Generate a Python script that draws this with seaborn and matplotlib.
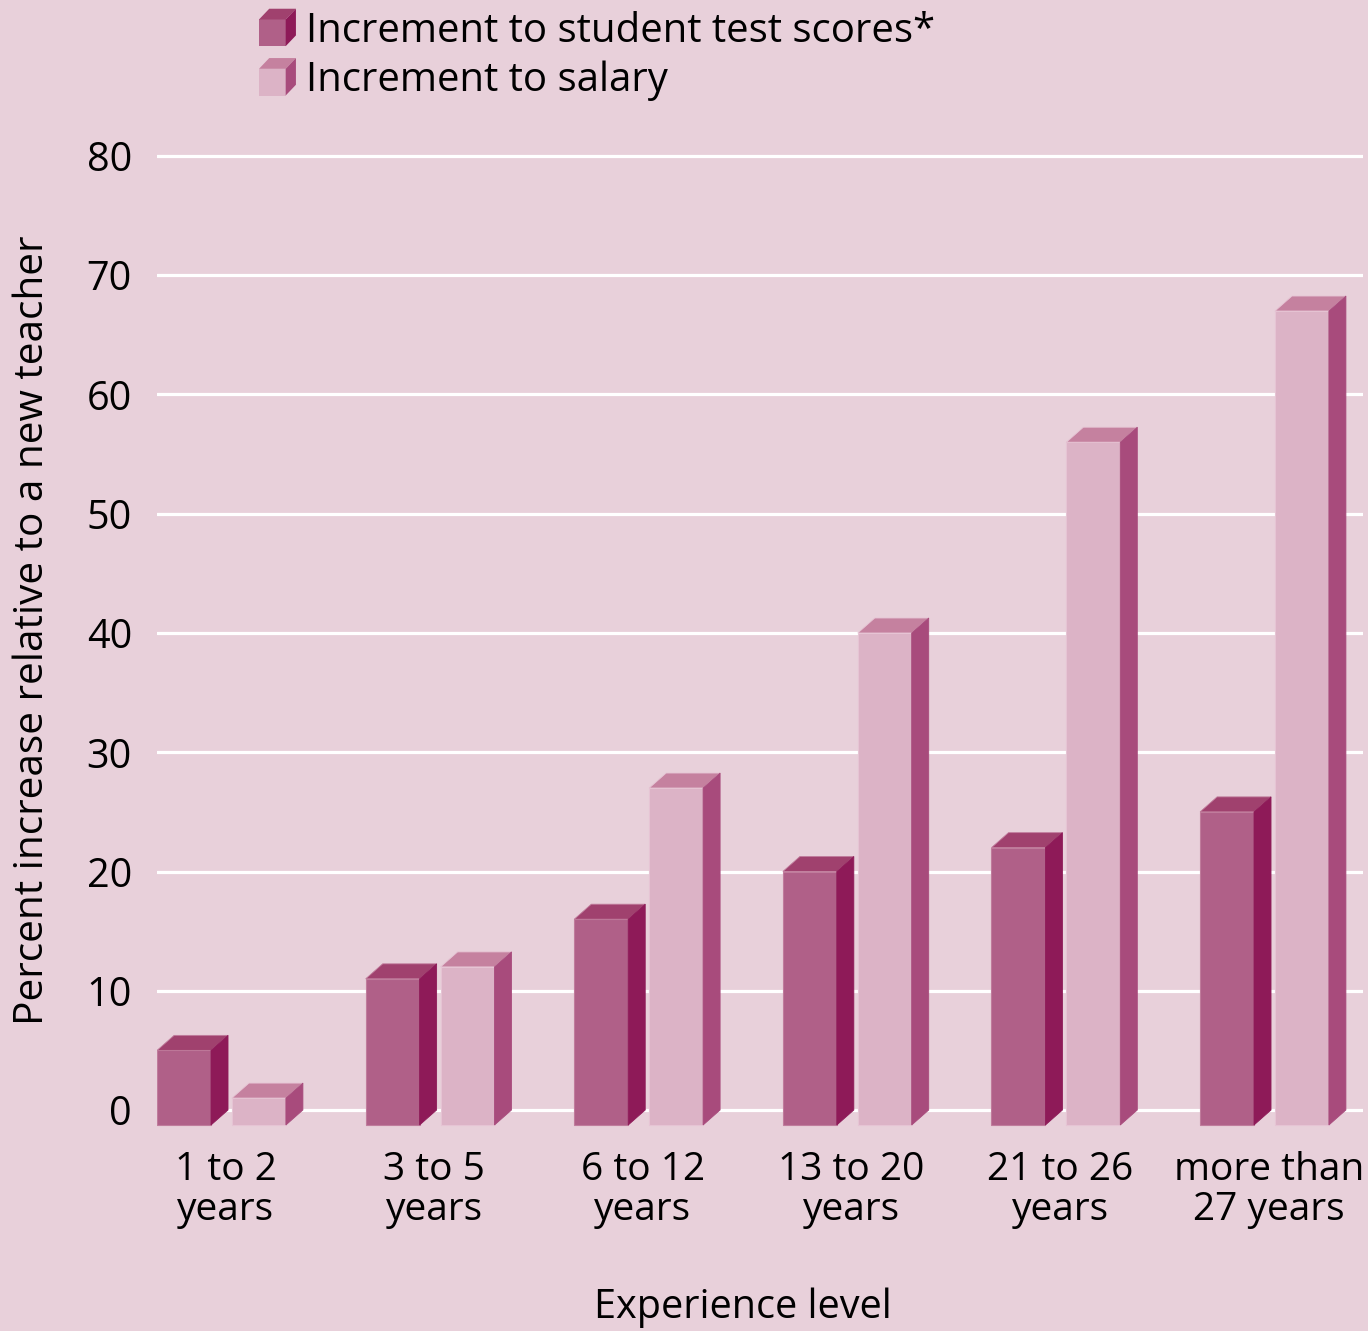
import numpy as np
import pandas as pd
import matplotlib
matplotlib.use("Agg")
import matplotlib.pyplot as plt
import seaborn as sns
from matplotlib.patches import Polygon, Patch
from matplotlib.legend_handler import HandlerBase

# ---------------- data ----------------
categories = ["1 to 2\nyears", "3 to 5\nyears", "6 to 12\nyears",
              "13 to 20\nyears", "21 to 26\nyears", "more than\n27 years"]
test_scores = [5, 11, 16, 20, 22, 25]
salary = [1, 12, 27, 40, 56, 67]
series = ["Increment to student test scores*", "Increment to salary"]
yticks = [0, 10, 20, 30, 40, 50, 60, 70, 80]
xlabel = "Experience level"
ylabel = "Percent increase relative to a new teacher"

df = pd.DataFrame({
    "Experience": categories * 2,
    "Value": test_scores + salary,
    "Series": [series[0]] * len(categories) + [series[1]] * len(categories),
})

# ---------------- style ----------------
BG = "#E8D0DA"
FACES = {
    series[0]: dict(front="#B06088", top="#A0416E", side="#8E1A58", edge="#C07C9C"),
    series[1]: dict(front="#DCB3C6", top="#C5819F", side="#A84B7C", edge="#E6C4D4"),
}
FS = 28

sns.set_theme(style="white")
plt.rcParams["font.family"] = ["Open Sans", "DejaVu Sans"]
plt.rcParams["font.weight"] = "medium"
plt.rcParams["text.color"] = "black"
plt.rcParams["xtick.color"] = "black"
plt.rcParams["ytick.color"] = "black"

W, H = 1368, 1331
fig = plt.figure(figsize=(W / 100, H / 100), dpi=100, facecolor=BG)
ax_left, ax_right, ax_top, ax_bot = 157, 1363, 140, 1140
ax = fig.add_axes([ax_left / W, 1 - ax_bot / H, (ax_right - ax_left) / W, (ax_bot - ax_top) / H])
ax.set_facecolor(BG)

sns.barplot(data=df, x="Experience", y="Value", hue="Series",
            palette=[FACES[s]["front"] for s in series],
            width=0.718, gap=0.28, ax=ax, legend=False,
            linewidth=0, saturation=1, zorder=3, errorbar=None)

# axis scales (pixel -> data)
px_per_x = 208.6
px_per_y = (1110 - 156) / 80.0
x0_px = 221.5
ax.set_xlim((ax_left - x0_px) / px_per_x, (ax_right - x0_px) / px_per_x)
ax.set_ylim(-(ax_bot - 1110) / px_per_y, 80 + (156 - ax_top) / px_per_y)

DX = 17 / px_per_x
DY = 15 / px_per_y
BASE = -DY

front_by_series = {s: matplotlib.colors.to_rgba(FACES[s]["front"]) for s in series}
for p in list(ax.patches):
    fc = p.get_facecolor()
    s = min(series, key=lambda k: sum((a - b) ** 2 for a, b in zip(fc, front_by_series[k])))
    c = FACES[s]
    x = p.get_x()
    w = p.get_width()
    v = p.get_y() + p.get_height()
    p.set_y(BASE)
    p.set_height(v - BASE)
    p.set_edgecolor(c["edge"])
    p.set_linewidth(0.8)
    top = Polygon([(x, v), (x + DX, v + DY), (x + w + DX, v + DY), (x + w, v)],
                  closed=True, facecolor=c["top"], edgecolor=c["edge"], linewidth=0.6, zorder=3)
    side = Polygon([(x + w, BASE), (x + w + DX, BASE + DY), (x + w + DX, v + DY), (x + w, v)],
                   closed=True, facecolor=c["side"], edgecolor=c["side"], linewidth=0.6, zorder=3)
    ax.add_patch(top)
    ax.add_patch(side)

# gridlines
for yv in yticks:
    ax.axhline(yv, color="white", lw=2.3, zorder=1)
ax.grid(False)
for sp in ax.spines.values():
    sp.set_visible(False)

ax.set_yticks(yticks)
ax.set_yticklabels([str(t) for t in yticks], fontsize=FS + 0.5)
ax.set_xticks([i + 0.02 for i in range(len(categories))])
ax.set_xticklabels(categories, fontsize=FS, linespacing=1.05)
ax.tick_params(axis="y", length=0, pad=18)
ax.tick_params(axis="x", length=0, pad=8)
ax.set_xlabel("")
ax.set_ylabel("")

fig.text(743 / W, 1 - 1308 / H, xlabel, fontsize=FS + 0.5, ha="center", va="center")
fig.text(33 / W, 1 - 630 / H, ylabel, fontsize=FS + 1.2, ha="center", va="center", rotation=90)


# legend with cube handles
class CubeHandler(HandlerBase):
    def __init__(self, faces):
        super().__init__()
        self.faces = faces

    def create_artists(self, legend, orig_handle, xdescent, ydescent, width, height, fontsize, trans):
        s = height * 0.95
        d = width - s
        dy = d * 1.05
        x0, y0 = -xdescent, -ydescent + (height - s - dy) / 2
        c = self.faces
        front = Polygon([(x0, y0), (x0 + s, y0), (x0 + s, y0 + s), (x0, y0 + s)], closed=True,
                        facecolor=c["front"], edgecolor="none", transform=trans)
        top = Polygon([(x0, y0 + s), (x0 + d, y0 + s + dy), (x0 + s + d, y0 + s + dy), (x0 + s, y0 + s)],
                      closed=True, facecolor=c["top"], edgecolor="none", transform=trans)
        side = Polygon([(x0 + s, y0), (x0 + s + d, y0 + dy), (x0 + s + d, y0 + s + dy), (x0 + s, y0 + s)],
                       closed=True, facecolor=c["side"], edgecolor="none", transform=trans)
        return [front, top, side]


handles = [Patch(facecolor=FACES[s]["front"], label=s) for s in series]
fig.legend(handles=handles, labels=series,
           handler_map={handles[0]: CubeHandler(FACES[series[0]]),
                        handles[1]: CubeHandler(FACES[series[1]])},
           loc="upper left", bbox_to_anchor=(259 / W, 1 - 11 / H),
           frameon=False, fontsize=FS + 0.9, borderpad=0, borderaxespad=0,
           handlelength=0.92, handleheight=0.70, handletextpad=0.24, labelspacing=0.22)

fig.savefig("out.png", dpi=100, facecolor=BG)
